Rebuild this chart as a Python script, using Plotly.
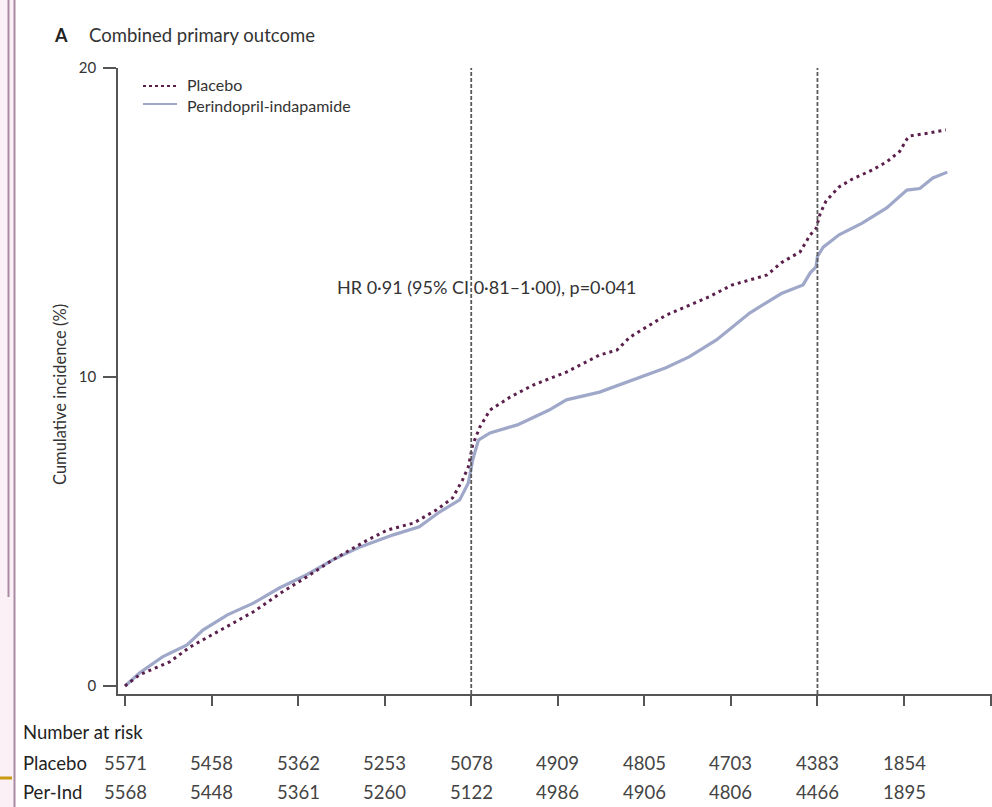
import plotly.graph_objects as go

# Cumulative incidence (%) by follow-up month
placebo_months = [0, 1.0, 3.1, 4.5, 6.4, 8.9, 10.9, 12.6, 14.4, 16.8, 18.2, 20.0, 21.6, 22.7,
                  23.4, 23.8, 24.1, 24.6, 25.3, 26.7, 28.3, 30.6, 32.9, 34.1, 35.0, 37.5,
                  40.5, 42.1, 44.5, 45.5, 46.8, 47.5, 47.9, 48.2, 48.6, 49.5, 50.4, 51.8,
                  52.8, 53.7, 54.2, 54.4, 55.8, 56.9]
placebo_values = [0, 0.36, 0.78, 1.26, 1.75, 2.4, 3.04, 3.53, 4.08, 4.72, 5.05, 5.27, 5.7, 6.08,
                  6.67, 7.09, 7.8, 8.38, 8.93, 9.35, 9.74, 10.16, 10.71, 10.87, 11.29, 12.0,
                  12.6, 12.98, 13.3, 13.7, 14.05, 14.6, 14.8, 15.3, 15.7, 16.15, 16.4, 16.7,
                  16.96, 17.3, 17.7, 17.8, 17.9, 18.0]

perind_months = [0, 1.0, 2.6, 4.3, 5.4, 7.1, 8.9, 10.7, 12.6, 14.4, 16.3, 18.6, 20.4, 21.8,
                 23.2, 23.8, 24.1, 24.5, 25.3, 27.2, 29.4, 30.6, 32.9, 35.2, 37.5, 39.1,
                 41.0, 43.3, 45.5, 47.0, 47.5, 47.9, 48.0, 48.4, 49.5, 51.1, 52.8, 54.2,
                 55.1, 56.0, 57.0]
perind_values = [0, 0.42, 0.94, 1.33, 1.81, 2.3, 2.68, 3.17, 3.6, 4.08, 4.5, 4.89, 5.15, 5.63,
                 6.02, 6.57, 7.31, 7.96, 8.19, 8.45, 8.93, 9.26, 9.51, 9.9, 10.3, 10.65,
                 11.2, 12.07, 12.7, 12.98, 13.37, 13.56, 13.9, 14.2, 14.6, 14.98, 15.47, 16.05,
                 16.1, 16.44, 16.63]

# Number at risk every 6 months
risk_months = [0, 6, 12, 18, 24, 30, 36, 42, 48, 54]
placebo_risk = [5571, 5458, 5362, 5253, 5078, 4909, 4805, 4703, 4383, 1854]
perind_risk = [5568, 5448, 5361, 5260, 5122, 4986, 4906, 4806, 4466, 1895]

x_ticks = [0, 6, 12, 18, 24, 30, 36, 42, 48, 54, 60]
y_ticks = [0, 10, 20]
marker_months = [24, 48]

FONT = "Lato"
PLACEBO_COLOR = "#5b1f4c"
PERIND_COLOR = "#9fa8c9"
TEXT_COLOR = "#333333"


def py(pixel_y):
    """Convert a pixel row of the page to paper y of the plot area (68..694)."""
    return (694 - pixel_y) / 626


def px(pixel_x):
    """Convert a pixel column of the page to paper x of the plot area (118..992)."""
    return (pixel_x - 118) / 874


fig = go.Figure()

fig.add_trace(go.Scatter(
    x=perind_months, y=perind_values, mode="lines", name="Perindopril-indapamide",
    line=dict(color=PERIND_COLOR, width=3.2), showlegend=False,
))
fig.add_trace(go.Scatter(
    x=placebo_months, y=placebo_values, mode="lines", name="Placebo",
    line=dict(color=PLACEBO_COLOR, width=3, dash="3px,4px"), showlegend=False,
))

shapes = []
for m in marker_months:
    shapes.append(dict(type="line", xref="x", yref="y", x0=m, x1=m, y0=-0.26, y1=20,
                       line=dict(color="#5a5a5a", width=1.8, dash="4px,2px")))

# legend keys
shapes.append(dict(type="line", xref="paper", yref="paper", x0=px(143), x1=px(177),
                   y0=py(86), y1=py(86),
                   line=dict(color=PLACEBO_COLOR, width=2, dash="3px,3px")))
shapes.append(dict(type="line", xref="paper", yref="paper", x0=px(143), x1=px(177),
                   y0=py(104), y1=py(104),
                   line=dict(color=PERIND_COLOR, width=2)))

# page edge rules
shapes.append(dict(type="rect", xref="paper", yref="paper", x0=px(0), x1=px(14),
                   y0=py(807), y1=py(0), fillcolor="#fbf0f6", line=dict(width=0),
                   layer="below"))
shapes.append(dict(type="line", xref="paper", yref="paper", x0=px(8.5), x1=px(8.5),
                   y0=py(597), y1=py(0), line=dict(color="#a98aa2", width=2)))
shapes.append(dict(type="line", xref="paper", yref="paper", x0=px(14.5), x1=px(14.5),
                   y0=py(807), y1=py(0), line=dict(color="#a98aa2", width=2)))
shapes.append(dict(type="line", xref="paper", yref="paper", x0=px(0), x1=px(12),
                   y0=py(778), y1=py(778), line=dict(color="#c99a12", width=3)))


def label(text, x, y, size, color=TEXT_COLOR, anchor="left", **kw):
    return dict(text=text, xref="paper", yref="paper", x=x, y=y, xanchor=anchor,
                yanchor="middle", showarrow=False,
                font=dict(family=FONT, size=size, color=color), **kw)


annotations = [
    label("<b>A</b>", px(52), py(35), 18, "#222222"),
    label("Combined primary outcome", px(87), py(35), 18.5),
    label("Placebo", px(186), py(85), 16, borderpad=0),
    label("Perindopril-indapamide", px(186), py(105), 16, borderpad=0),
    dict(text="HR 0·91 (95% CI 0·81–1·00), p=0·041", xref="x", yref="y", x=25.1, y=12.9,
         xanchor="center", yanchor="middle", showarrow=False,
         font=dict(family=FONT, size=18, color=TEXT_COLOR)),
    label("Cumulative incidence (%)", px(60), py(395), 16.5, anchor="center", textangle=-90),
    label("Number at risk", px(21), py(732), 18.5, "#222222"),
    label("Placebo", px(21), py(763), 18.5, "#222222"),
    label("Per-Ind", px(21), py(792), 18.5, "#222222"),
]
for m, p, r in zip(risk_months, placebo_risk, perind_risk):
    annotations.append(dict(text=str(p), xref="x", yref="paper", x=m, y=py(763),
                            xanchor="center", yanchor="middle", showarrow=False,
                            font=dict(family=FONT, size=18.5, color="#444444")))
    annotations.append(dict(text=str(r), xref="x", yref="paper", x=m, y=py(792),
                            xanchor="center", yanchor="middle", showarrow=False,
                            font=dict(family=FONT, size=18.5, color="#444444")))

fig.update_layout(
    width=992, height=807,
    margin=dict(l=118, r=0, t=68, b=113),
    paper_bgcolor="white", plot_bgcolor="white",
    font=dict(family=FONT, color=TEXT_COLOR),
    shapes=shapes, annotations=annotations,
    showlegend=False,
)
fig.update_xaxes(
    range=[-0.485, 60.1], tickvals=x_ticks, showticklabels=False,
    ticks="outside", ticklen=10, tickwidth=1.5, tickcolor="#555555",
    showline=True, linecolor="#555555", linewidth=1.5,
    showgrid=False, zeroline=False,
)
fig.update_yaxes(
    range=[-0.26, 20], tickvals=y_ticks, ticktext=[str(v) for v in y_ticks],
    ticks="outside", ticklen=13, tickwidth=1.5, tickcolor="#555555",
    ticklabelstandoff=4,
    tickfont=dict(family=FONT, size=15, color=TEXT_COLOR),
    showline=True, linecolor="#555555", linewidth=1.5,
    showgrid=False, zeroline=False,
)

fig.write_html("out.html")
